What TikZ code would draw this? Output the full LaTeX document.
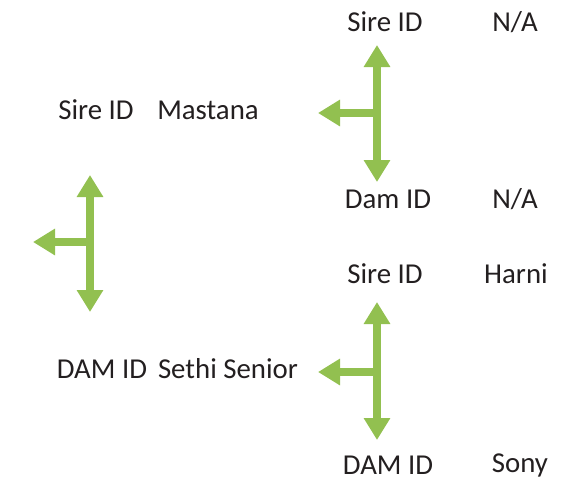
\documentclass[tikz,border=0pt]{standalone}
\usepackage{fontspec}
\setmainfont{Carlito}
\usetikzlibrary{arrows.meta}
\definecolor{leafgreen}{RGB}{146,192,80}
\definecolor{inkgray}{RGB}{35,31,32}
\tikzset{
    label/.style={text=inkgray, font=\fontsize{20.5}{24}\selectfont, inner sep=0pt},
    branch/.style={draw=leafgreen, line width=0.2cm,
        arrows={-Triangle[width=0.63cm,length=0.55cm]}},
    twoway/.style={branch, arrows={Triangle[width=0.63cm,length=0.55cm]-Triangle[width=0.63cm,length=0.55cm]}}
}
\begin{document}
\begin{tikzpicture}[x=0.025cm, y=-0.025cm]
    \useasboundingbox (0,0) rectangle (585,482);

    % Animal
    \node[label] (sire) at (96,110) {Sire ID};
    \node[label] (sirename) at (208,110) {Mastana};
    \node[label] (dam) at (102,369) {DAM ID};
    \node[label] (damname) at (228,369) {Sethi Senior};

    % Sire's parents
    \node[label] (siresire) at (385,22) {Sire ID};
    \node[label] (siresirename) at (515,22) {N/A};
    \node[label] (siredam) at (388,199) {Dam ID};
    \node[label] (siredamname) at (515,199) {N/A};

    % Dam's parents
    \node[label] (damsire) at (385,274) {Sire ID};
    \node[label] (damsirename) at (516,274) {Harni};
    \node[label] (damdam) at (388,465) {DAM ID};
    \node[label] (damdamname) at (520,465) {Sony};

    % Branch ends
    \coordinate (rootup) at (90,175);
    \coordinate (rootdown) at (90,312);
    \coordinate (rootjoin) at (90,242);
    \coordinate (rootleft) at (33,242);

    \coordinate (sireup) at (377,45);
    \coordinate (siredown) at (377,182);
    \coordinate (sirejoin) at (377,113);
    \coordinate (sireleft) at (318,113);

    \coordinate (damup) at (377,302);
    \coordinate (damdown) at (377,440);
    \coordinate (damjoin) at (377,372);
    \coordinate (damleft) at (318,372);

    % Branches
    \draw[twoway] (rootup) -- (rootdown);
    \draw[branch] (rootjoin) -- (rootleft);
    \draw[twoway] (sireup) -- (siredown);
    \draw[branch] (sirejoin) -- (sireleft);
    \draw[twoway] (damup) -- (damdown);
    \draw[branch] (damjoin) -- (damleft);
\end{tikzpicture}
\end{document}
